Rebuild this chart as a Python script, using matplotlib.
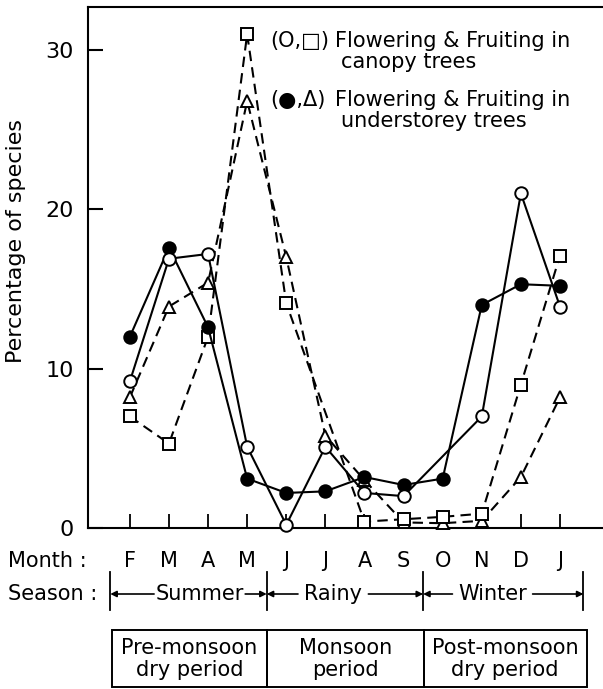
import numpy as np
import matplotlib
matplotlib.use("Agg")
import matplotlib.pyplot as plt
from matplotlib.patches import Rectangle
from matplotlib.transforms import blended_transform_factory

# values (percentage of species per month)
months = ["F", "M", "A", "M", "J", "J", "A", "S", "O", "N", "D", "J"]
canopy_flower = [9.2, 16.9, 17.2, 5.1, 0.2, 5.1, 2.2, 2.0, np.nan, 7.0, 21.0, 13.9]
canopy_fruit = [7.0, 5.3, 12.0, 31.0, 14.1, np.nan, 0.4, 0.55, 0.7, 0.9, 9.0, 17.1]
under_flower = [12.0, 17.6, 12.6, 3.1, 2.2, 2.3, 3.2, 2.7, 3.1, 14.0, 15.3, 15.2]
under_fruit = [8.2, 13.9, 15.4, 26.8, 17.0, 5.8, 3.0, 0.35, 0.3, 0.45, 3.2, 8.2]
yticks = [0, 10, 20, 30]

seasons = ["Summer", "Rainy", "Winter"]
season_edges = [-0.5, 3.5, 7.5, 11.6]
periods = ["Pre-monsoon\ndry period", "Monsoon\nperiod", "Post-monsoon\ndry period"]

W, H = 603, 689
FS = 15


def fy(py):
    return 1 - py / H


def draw_series(ax, vals, marker, face, dashed, ms):
    x = np.arange(len(vals))
    y = np.array(vals, dtype=float)
    ok = ~np.isnan(y)
    kw = dict(color="black", lw=1.5, marker=marker, ms=ms, mfc=face,
              mec="black", mew=1.4, clip_on=False, zorder=3)
    if dashed:
        kw["dashes"] = (5, 3)
    ax.plot(x[ok], y[ok], **kw)


fig = plt.figure(figsize=(W / 100, H / 100), dpi=100)
ax = fig.add_axes([88 / W, fy(528), 1 - 88 / W, (528 - 7) / H])

draw_series(ax, under_fruit, "^", "white", True, 8.5)
draw_series(ax, canopy_fruit, "s", "white", True, 8)
draw_series(ax, under_flower, "o", "black", False, 9)
draw_series(ax, canopy_flower, "o", "white", False, 9)

ax.set_xlim(-1.07, 12.1)
ax.set_ylim(0, 32.7)
ax.spines["right"].set_visible(False)
for s in ["left", "bottom", "top"]:
    ax.spines[s].set_linewidth(1.5)

ax.set_yticks(yticks)
ax.set_yticklabels([str(v) for v in yticks], fontsize=16)
ax.set_xticks(range(len(months)))
ax.set_xticklabels([])
ax.tick_params(axis="y", direction="in", length=11, width=1.5, pad=10)
ax.tick_params(axis="x", direction="in", length=10, width=1.3)
ax.set_ylabel("Percentage of species", fontsize=16)
ax.yaxis.set_label_coords(-0.12, 0.55)

tr = blended_transform_factory(ax.transData, fig.transFigure)

# month row
fig.text(8 / W, fy(567), "Month :", fontsize=FS, va="baseline")
for i, m in enumerate(months):
    ax.text(i, fy(567), m, transform=tr, fontsize=FS, ha="center", va="baseline")

# season row
fig.text(8 / W, fy(600), "Season :", fontsize=FS, va="baseline")
for xb in season_edges:
    ax.plot([xb, xb], [fy(572), fy(610)], transform=tr, color="black", lw=1.3,
            clip_on=False)
arrow = dict(arrowstyle="-|>", lw=1.2, color="black", mutation_scale=9,
             shrinkA=0, shrinkB=0)
text_span = [(0.72, 2.85), (4.4, 6.0), (8.35, 10.2)]
for k, name in enumerate(seasons):
    a, b = text_span[k]
    ax.text((a + b) / 2, fy(600), name, transform=tr, fontsize=FS,
            ha="center", va="baseline")
    ax.annotate("", xy=(season_edges[k], fy(594)), xytext=(a - 0.1, fy(594)),
                xycoords=tr, textcoords=tr, arrowprops=arrow)
    ax.annotate("", xy=(season_edges[k + 1], fy(594)), xytext=(b + 0.1, fy(594)),
                xycoords=tr, textcoords=tr, arrowprops=arrow)

# period boxes
box_edges = [-0.46, 3.5, 7.52, 11.68]
for k, lab in enumerate(periods):
    x0, x1 = box_edges[k], box_edges[k + 1]
    ax.add_patch(Rectangle((x0, fy(687)), x1 - x0, (687 - 630) / H, transform=tr,
                           fill=False, lw=1.4, ec="black", clip_on=False))
    ax.text((x0 + x1) / 2, fy(659), lab, transform=tr, fontsize=FS, ha="center",
            va="center", multialignment="center", linespacing=1.1)

# key in the top right
fig.text(270 / W, fy(47), "(O,□)", fontsize=FS, va="baseline")
fig.text(335 / W, fy(47), "Flowering & Fruiting in", fontsize=FS, va="baseline")
fig.text(341 / W, fy(68), "canopy trees", fontsize=FS, va="baseline")
fig.text(270 / W, fy(106), "(●,Δ)", fontsize=FS, va="baseline")
fig.text(335 / W, fy(106), "Flowering & Fruiting in", fontsize=FS, va="baseline")
fig.text(341 / W, fy(127), "understorey trees", fontsize=FS, va="baseline")

fig.savefig("out.png", dpi=100)
